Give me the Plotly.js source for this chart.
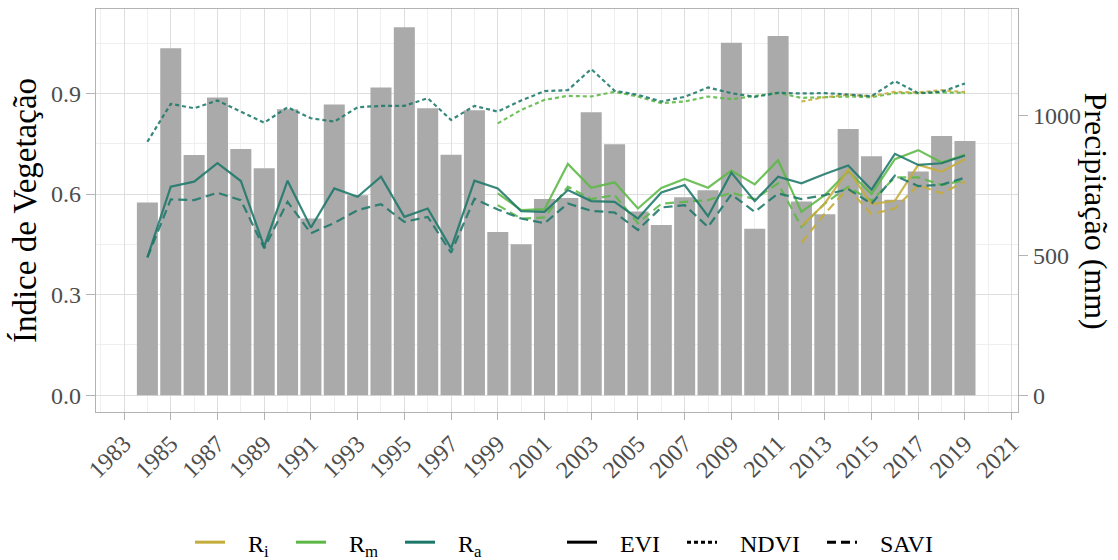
<!DOCTYPE html>
<html>
<head>
<meta charset="utf-8">
<script src="https://cdn.plot.ly/plotly-3.0.1.min.js"></script>
<style>html,body{margin:0;padding:0;background:#fff;}#chart{width:1118px;height:560px;}</style>
</head>
<body>
<div id="chart"></div>
<script>
// ---- data ----
const years = [1984,1985,1986,1987,1988,1989,1990,1991,1992,1993,1994,1995,1996,1997,1998,1999,2000,2001,2002,2003,2004,2005,2006,2007,2008,2009,2010,2011,2012,2013,2014,2015,2016,2017,2018,2019];
const yearsRm = [1999,2000,2001,2002,2003,2004,2005,2006,2007,2008,2009,2010,2011,2012,2013,2014,2015,2016,2017,2018,2019];
const yearsRi = [2012,2013,2014,2015,2016,2017,2018,2019];

const precip = [690,1242,860,1066,881,812,1024,633,1041,716,1101,1317,1027,861,1020,584,540,702,706,1013,898,658,609,709,734,1262,596,1286,693,648,953,855,700,801,928,910];

const raEVI  = [0.411,0.622,0.637,0.692,0.639,0.443,0.640,0.500,0.617,0.592,0.652,0.532,0.557,0.438,0.640,0.617,0.549,0.547,0.612,0.579,0.577,0.527,0.605,0.627,0.534,0.664,0.579,0.652,0.632,0.660,0.685,0.613,0.720,0.687,0.692,0.715];
const raNDVI = [0.756,0.869,0.856,0.879,0.846,0.813,0.859,0.826,0.816,0.859,0.863,0.863,0.886,0.821,0.863,0.846,0.879,0.907,0.910,0.973,0.908,0.896,0.876,0.890,0.918,0.901,0.890,0.902,0.900,0.901,0.897,0.892,0.937,0.901,0.905,0.930];
const raSAVI = [0.411,0.584,0.582,0.604,0.582,0.438,0.577,0.483,0.514,0.552,0.570,0.517,0.532,0.425,0.586,0.554,0.527,0.513,0.572,0.550,0.545,0.493,0.560,0.567,0.502,0.599,0.547,0.602,0.585,0.597,0.615,0.571,0.655,0.624,0.628,0.649];

const rmEVI  = [0.602,0.552,0.555,0.690,0.619,0.635,0.557,0.618,0.645,0.619,0.670,0.629,0.701,0.547,0.597,0.668,0.600,0.704,0.731,0.694,0.717];
const rmNDVI = [0.811,0.851,0.881,0.893,0.891,0.905,0.891,0.871,0.876,0.891,0.883,0.893,0.902,0.887,0.889,0.891,0.889,0.901,0.901,0.903,0.902];
const rmSAVI = [0.567,0.527,0.530,0.622,0.585,0.597,0.513,0.571,0.577,0.582,0.604,0.585,0.632,0.502,0.572,0.622,0.580,0.650,0.650,0.627,0.642];

const riEVI  = [0.505,0.572,0.672,0.570,0.580,0.687,0.667,0.704];
const riNDVI = [0.876,0.889,0.896,0.892,0.905,0.903,0.910,0.904];
const riSAVI = [0.455,0.542,0.617,0.540,0.557,0.627,0.602,0.637];

const regionNames = ['R<sub>i</sub>','R<sub>m</sub>','R<sub>a</sub>'];
const indexNames = ['EVI','NDVI','SAVI'];
const yTicksIdx = [0,0.3,0.6,0.9];
const yTicksPrec = [0,500,1000];

// ---- styles ----
const FONT = 'Liberation Serif, Times New Roman, serif';
const colRi = '#C4AC3A', colRm = '#5CB846', colRa = '#1C776A';
const dashes = {EVI:'solid', NDVI:'4px,3px', SAVI:'9px,5px'};
const K = 1200; // secondary axis scale
const idxRange = [-0.05, 1.152];
const PL = 96, PW = 922; // plot-area left and width in px (for legend placement)

const traces = [];
traces.push({type:'bar', x:years, y:precip, yaxis:'y', marker:{color:'#AAAAAA'}, width:0.9, showlegend:false, hoverinfo:'skip'});

function addLines(xs, evi, ndvi, savi, col){
  [['EVI',evi],['NDVI',ndvi],['SAVI',savi]].forEach(([k,v])=>{
    traces.push({type:'scatter', mode:'lines', x:xs, y:v, yaxis:'y2', showlegend:false,
      line:{color:col, width:2.2, dash:dashes[k]}, opacity:0.88});
  });
}
addLines(yearsRm, rmEVI, rmNDVI, rmSAVI, colRm);
addLines(yearsRi, riEVI, riNDVI, riSAVI, colRi);
addLines(years, raEVI, raNDVI, raSAVI, colRa);

// legend entries, each in its own legend box
const NB = '\u00A0\u00A0\u00A0';
const legendItems = [
  {name:regionNames[0], line:{color:colRi, width:3}, px:190},
  {name:regionNames[1], line:{color:colRm, width:3}, px:291},
  {name:regionNames[2], line:{color:colRa, width:3}, px:400},
  {name:indexNames[0], line:{color:'#000', width:3, dash:dashes.EVI}, px:562},
  {name:indexNames[1], line:{color:'#000', width:3, dash:dashes.NDVI}, px:682},
  {name:indexNames[2], line:{color:'#000', width:3, dash:dashes.SAVI}, px:822}
];
const layoutLegends = {};
legendItems.forEach((it,i)=>{
  const key = i === 0 ? 'legend' : 'legend' + (i+1);
  traces.push({type:'scatter', mode:'lines', x:[null], y:[null], yaxis:'y2', name:NB + it.name, line:it.line, legend:key});
  layoutLegends[key] = {orientation:'h', font:{family:FONT, size:24, color:'#000'}, bgcolor:'rgba(0,0,0,0)',
    yanchor:'middle', xanchor:'left', y:-0.324, x:(it.px - PL)/PW};
});

const layout = Object.assign({
  width:1118, height:560,
  margin:{l:96, r:100, t:9, b:148, autoexpand:false},
  paper_bgcolor:'#fff', plot_bgcolor:'#fff',
  font:{family:FONT, color:'#4D4D4D'},
  xaxis:{range:[1981.8,2021.27], tickmode:'linear', tick0:1983, dtick:2, tickangle:-45,
    ticks:'outside', ticklen:7, tickcolor:'#B3B3B3', tickwidth:1,
    tickfont:{family:FONT, size:24, color:'#4D4D4D'},
    showgrid:true, gridcolor:'#DEDEDE', gridwidth:1,
    minor:{tickmode:'linear', tick0:1984, dtick:2, showgrid:true, gridcolor:'#EFEFEF', gridwidth:1, ticks:''},
    showline:true, mirror:true, linecolor:'#B3B3B3', linewidth:1.2, zeroline:false},
  yaxis:{range:[idxRange[0]*K, idxRange[1]*K], side:'right', tickvals:yTicksPrec, ticktext:yTicksPrec.map(String),
    ticks:'outside', ticklen:9, tickcolor:'#B3B3B3', tickfont:{family:FONT, size:24, color:'#4D4D4D'},
    showgrid:false, zeroline:false, showline:true, linecolor:'#B3B3B3', linewidth:1.2},
  yaxis2:{range:idxRange, overlaying:'y', side:'left', tickvals:yTicksIdx, ticktext:yTicksIdx.map(v=>v.toFixed(1)),
    ticks:'outside', ticklen:9, tickcolor:'#B3B3B3', tickfont:{family:FONT, size:24, color:'#4D4D4D'},
    showgrid:true, gridcolor:'#DEDEDE', gridwidth:1,
    minor:{tickvals:[0.15,0.45,0.75,1.05], showgrid:true, gridcolor:'#EFEFEF', gridwidth:1, ticks:''},
    zeroline:false, showline:true, linecolor:'#B3B3B3', linewidth:1.2,
    title:{text:'Índice de Vegetação', font:{family:FONT, size:33, color:'#000'}, standoff:4}},
  annotations:[{text:'Precipitação (mm)', xref:'paper', yref:'paper', x:1.0846, y:0.5, textangle:90,
    showarrow:false, xanchor:'center', yanchor:'middle', font:{family:FONT, size:32, color:'#000'}}]
}, layoutLegends);

Plotly.newPlot('chart', traces, layout, {displayModeBar:false, staticPlot:true});
</script>
</body>
</html>
